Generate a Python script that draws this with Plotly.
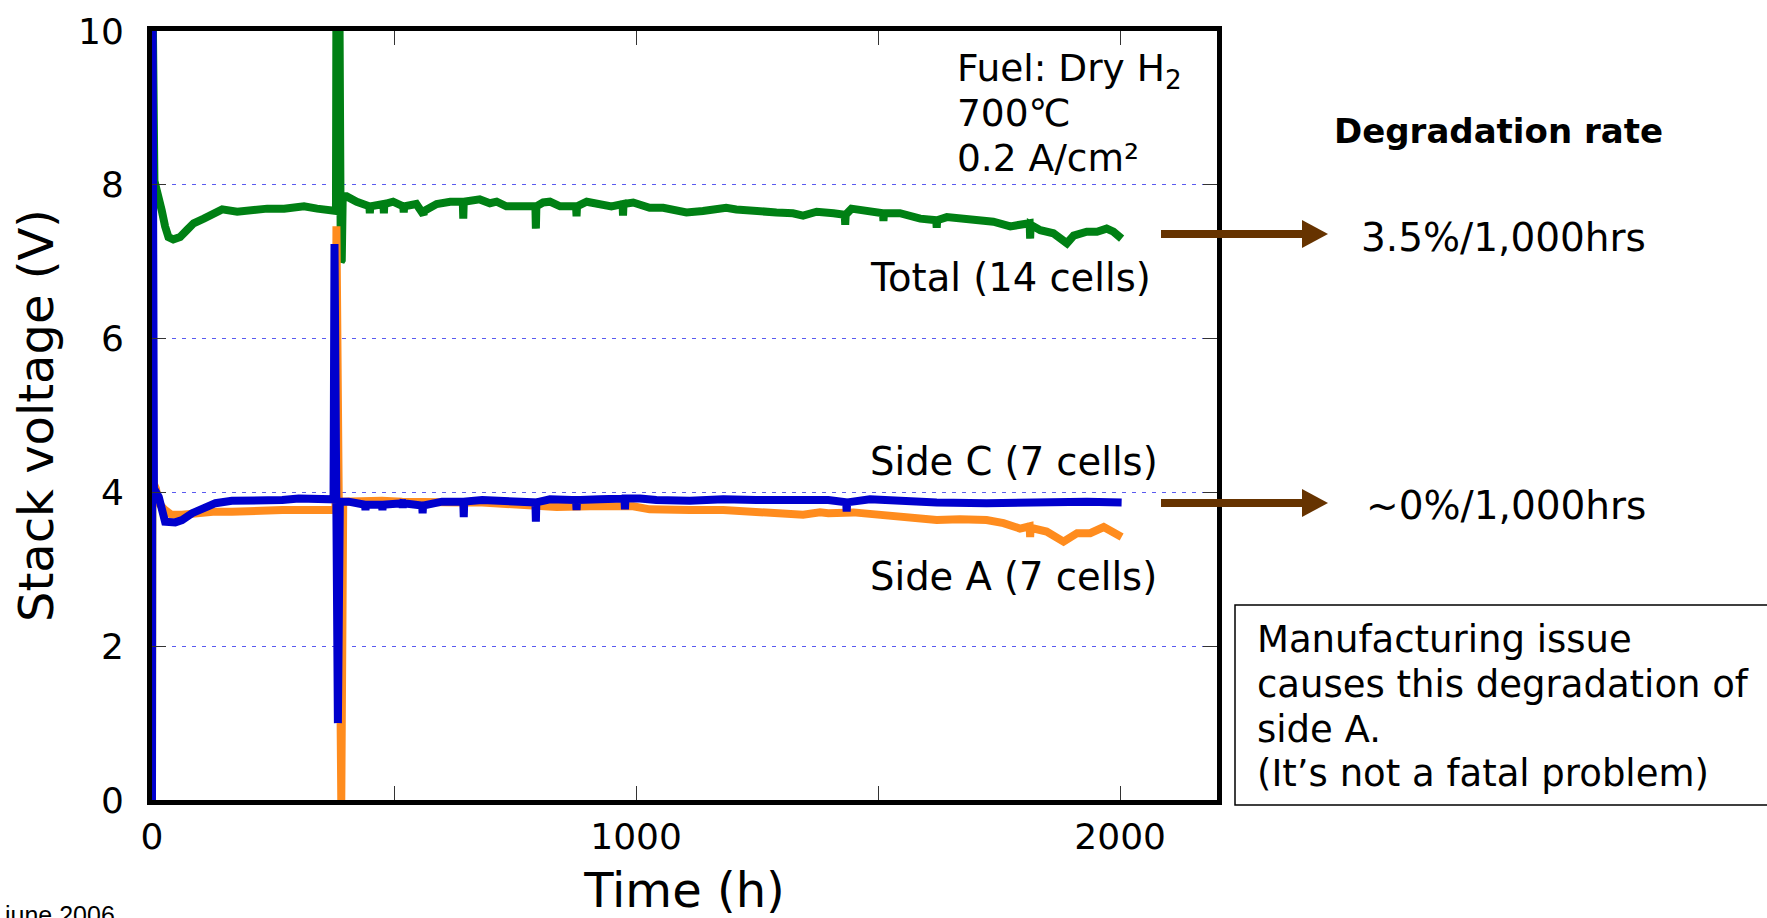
import plotly.graph_objects as go

# ---------------- data ----------------
total_t = [0, 1, 5, 13, 20, 27, 34, 44, 58, 72, 86, 107, 134, 145, 176, 204, 238, 273, 314, 341, 369,
           380, 381, 387, 390, 392, 394, 402, 423, 449, 450, 451, 478, 479, 480, 498, 519, 520, 521, 546,
           560, 561, 562, 588, 616, 642, 643, 644, 677, 698, 712, 732, 767, 792, 793, 794, 808, 822,
           843, 876, 877, 878, 898, 925, 949, 972, 973, 974, 994, 1014, 1028, 1056, 1083, 1104, 1138,
           1159, 1186, 1207, 1248, 1290, 1324, 1345, 1373, 1397, 1408, 1431, 1432, 1433, 1445, 1483,
           1510, 1511, 1512, 1545, 1587, 1620, 1621, 1622, 1642, 1676, 1711, 1738, 1773, 1813, 1814,
           1815, 1835, 1862, 1890, 1904, 1931, 1952, 1972, 1986, 2003]
total_v = [0.0, 10.6, 8.05, 7.89, 7.67, 7.46, 7.32, 7.29, 7.32, 7.41, 7.50, 7.56, 7.63, 7.68, 7.65,
           7.67, 7.69, 7.69, 7.72, 7.69, 7.67,
           7.66, 10.6, 10.6, 7.00, 7.02, 7.85, 7.85, 7.78, 7.72, 7.63, 7.72, 7.75, 7.63, 7.75, 7.78, 7.72,
           7.64, 7.72, 7.75,
           7.65, 7.61, 7.66, 7.75, 7.78, 7.78, 7.56, 7.78, 7.81, 7.76, 7.78, 7.72, 7.72, 7.72, 7.43,
           7.72, 7.77, 7.78,
           7.72, 7.72, 7.59, 7.72, 7.78, 7.75, 7.72, 7.75, 7.60, 7.75, 7.77, 7.74, 7.70, 7.70, 7.68,
           7.64, 7.66,
           7.68, 7.70, 7.68, 7.65, 7.64, 7.63, 7.60, 7.65, 7.62, 7.63, 7.61, 7.48, 7.61, 7.69, 7.65,
           7.63, 7.53, 7.63, 7.63, 7.56, 7.54, 7.44, 7.54, 7.58, 7.55, 7.54, 7.52, 7.46, 7.50, 7.30,
           7.48, 7.41, 7.37, 7.24, 7.34, 7.39, 7.39, 7.43, 7.39, 7.30]

side_a_t = [0, 1, 3, 8, 14, 27, 40, 62, 83, 131, 165, 200, 269, 340, 375, 379, 381, 388, 391, 395,
            441, 475, 517, 558, 599, 644, 682, 713, 732, 793, 836, 905, 960, 994, 1028, 1056, 1111,
            1180, 1221, 1269, 1317, 1345, 1380, 1397, 1449, 1504, 1552, 1621, 1669, 1724, 1759, 1793,
            1813, 1814, 1815, 1848, 1883, 1911, 1938, 1966, 1986, 2003]
side_a_v = [0.0, 7.4, 4.12, 4.05, 3.86, 3.77, 3.71, 3.71, 3.73, 3.75, 3.75, 3.76, 3.77, 3.77, 3.77,
            3.77, 7.46, 0.0, 0.0, 3.88,
            3.90, 3.89, 3.88, 3.87, 3.88, 3.87, 3.87, 3.86, 3.84, 3.84, 3.81, 3.82, 3.81, 3.82, 3.78,
            3.77, 3.77,
            3.77, 3.76, 3.74, 3.74, 3.71, 3.74, 3.73, 3.74, 3.70, 3.68, 3.64, 3.65, 3.64, 3.60, 3.53,
            3.56, 3.42, 3.54, 3.49, 3.36, 3.47, 3.47, 3.55, 3.49, 3.42]

side_c_t = [0, 1, 4, 14, 27, 48, 62, 83, 103, 131, 165, 200, 234, 269, 303, 351, 375, 377, 384, 388,
            406, 440, 441, 442, 475, 476, 477, 517, 518, 519, 558, 559, 560, 599, 643, 644, 645, 682,
            713, 732, 767, 792, 793, 794, 822, 876, 877, 878, 925, 976, 977, 978, 1008, 1042, 1111,
            1180, 1248, 1317, 1359, 1397, 1434, 1435, 1436, 1483, 1552, 1621, 1724, 1828, 1931, 2003]
side_c_v = [0.0, 10.6, 4.05, 3.94, 3.62, 3.61, 3.64, 3.73, 3.79, 3.86, 3.89, 3.89, 3.89, 3.90, 3.92,
            3.91, 3.91, 7.23, 1.0, 3.88,
            3.88, 3.84, 3.77, 3.84, 3.84, 3.77, 3.84, 3.86, 3.80, 3.86, 3.83, 3.73, 3.83, 3.88, 3.88,
            3.68, 3.88, 3.90,
            3.89, 3.87, 3.87, 3.87, 3.62, 3.87, 3.91, 3.90, 3.77, 3.90, 3.91, 3.92, 3.78, 3.92, 3.92,
            3.90, 3.89,
            3.91, 3.90, 3.90, 3.88, 3.90, 3.87, 3.75, 3.87, 3.91, 3.88, 3.87, 3.86, 3.88, 3.88, 3.87]

x_tick_vals = [0, 1000, 2000]
x_tick_text = ["0", "1000", "2000"]
x_minor_step = 500
y_tick_vals = [0, 2, 4, 6, 8, 10]
y_tick_text = ["0", "2", "4", "6", "8", "10"]

rates = ["3.5%/1,000hrs", "~0%/1,000hrs"]
conditions = ["Fuel: Dry H<sub>2</sub>", "700℃", "0.2 A/cm²"]
note_lines = ["Manufacturing issue", "causes this degradation of", "side A.", "(It’s not a fatal problem)"]

# ---------------- styling / layout ----------------
FONT = "DejaVu Sans"
GREEN = "rgb(0,128,20)"
ORANGE = "rgb(255,140,30)"
BLUE = "rgb(0,0,205)"
BROWN = "#663300"

W, H = 1767, 918
L, R, T, B = 152, 1217, 31, 800


def px(x):
    return (x - L) / (R - L)


def py(y):
    return (B - y) / (B - T)


fig = go.Figure()
fig.add_trace(go.Scatter(x=total_t, y=total_v, mode="lines", name="Total (14 cells)",
                         line=dict(color=GREEN, width=8), showlegend=False))
fig.add_trace(go.Scatter(x=side_a_t, y=side_a_v, mode="lines", name="Side A (7 cells)",
                         line=dict(color=ORANGE, width=8), showlegend=False))
fig.add_trace(go.Scatter(x=side_c_t, y=side_c_v, mode="lines", name="Side C (7 cells)",
                         line=dict(color=BLUE, width=8), showlegend=False))

fig.update_layout(
    width=W, height=H,
    margin=dict(l=L, r=W - R, t=T, b=H - B, pad=0, autoexpand=False),
    paper_bgcolor="white", plot_bgcolor="white",
    font=dict(family=FONT, color="black"),
    xaxis=dict(range=[0, 2200], tickvals=x_tick_vals, ticktext=x_tick_text, automargin=False,
               showgrid=False, zeroline=False,
               showline=True, linewidth=5, linecolor="black", mirror="ticks",
               ticks="inside", ticklen=14, tickwidth=1, tickcolor="#333",
               minor=dict(dtick=x_minor_step, tick0=0, ticks="inside", ticklen=14, tickwidth=1,
                          tickcolor="#333", showgrid=False),
               tickfont=dict(size=36, family=FONT), ticklabelstandoff=1,
               title=dict(text="Time (h)", font=dict(size=48, family=FONT), standoff=20)),
    yaxis=dict(range=[0, 10], tickvals=y_tick_vals, ticktext=y_tick_text, automargin=False,
               showgrid=True, gridcolor="rgb(90,90,240)", gridwidth=1, griddash="4px,6px",
               zeroline=False,
               showline=True, linewidth=5, linecolor="black", mirror="ticks",
               ticks="inside", ticklen=14, tickwidth=1, tickcolor="#333",
               tickfont=dict(size=36, family=FONT), ticklabelstandoff=16,
               title=dict(text="Stack voltage (V)", font=dict(size=48, family=FONT), standoff=11)),
)

ann = []
# in-plot series labels
for text, yv in [("Total (14 cells)", 6.80), ("Side C (7 cells)", 4.40), ("Side A (7 cells)", 2.91)]:
    ann.append(dict(x=1479, y=yv, xref="x", yref="y", text=text, showarrow=False,
                    xanchor="left", yanchor="middle", font=dict(size=38.5, family=FONT)))
# operating conditions
for text, yv in zip(conditions, [9.49, 8.93, 8.35]):
    ann.append(dict(x=1659, y=yv, xref="x", yref="y", text=text, showarrow=False,
                    xanchor="left", yanchor="middle", font=dict(size=37.5, family=FONT)))
# degradation rate panel
ann.append(dict(x=px(1498), y=py(131), xref="paper", yref="paper", text="<b>Degradation rate</b>",
                showarrow=False, xanchor="center", yanchor="middle",
                font=dict(size=34, family=FONT)))
for text, ypx in zip(rates, [237, 505]):
    ann.append(dict(x=px(1648), y=py(ypx), xref="paper", yref="paper", text=text, showarrow=False,
                    xanchor="right", yanchor="middle", font=dict(size=39, family=FONT)))
# note box lines
for text, ypx in zip(note_lines, [639, 684, 729, 773]):
    ann.append(dict(x=px(1255), y=py(ypx), xref="paper", yref="paper", text=text, showarrow=False,
                    xanchor="left", yanchor="middle", font=dict(size=37, family=FONT)))
# footer
ann.append(dict(x=px(2), y=py(899), xref="paper", yref="paper", text="june 2006", showarrow=False,
                xanchor="left", yanchor="top", font=dict(size=25, family="Liberation Sans")))
fig.update_layout(annotations=ann)

shapes = []
for ypx in [234, 503]:
    shapes.append(dict(type="line", xref="paper", yref="paper",
                       x0=px(1161), x1=px(1305), y0=py(ypx), y1=py(ypx),
                       line=dict(color=BROWN, width=8)))
    shapes.append(dict(type="path", xref="paper", yref="paper",
                       path=f"M {px(1302)} {py(ypx - 14)} L {px(1328)} {py(ypx)} L {px(1302)} {py(ypx + 14)} Z",
                       fillcolor=BROWN, line=dict(color=BROWN, width=0)))
shapes.append(dict(type="rect", xref="paper", yref="paper",
                   x0=px(1235), x1=px(1780), y0=py(605), y1=py(805),
                   line=dict(color="black", width=1.5), fillcolor="rgba(0,0,0,0)"))
fig.update_layout(shapes=shapes)

fig.write_html("out.html", config={"displayModeBar": False},
               post_script="document.body.style.margin='0';document.body.style.overflow='hidden';")
